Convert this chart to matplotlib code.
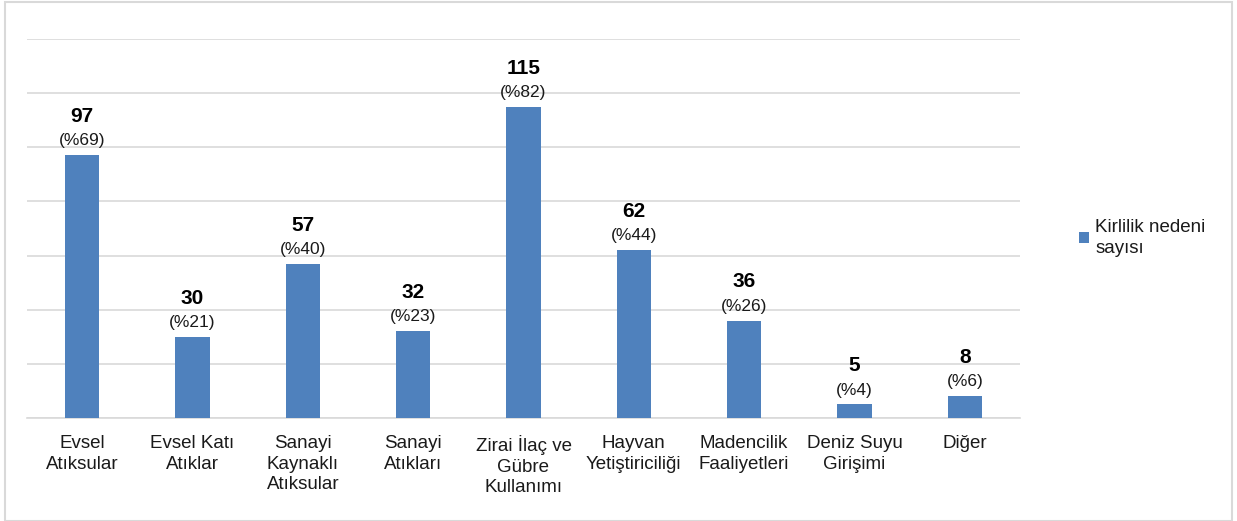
import matplotlib.pyplot as plt
from matplotlib.patches import Rectangle

plt.rcParams['font.family'] = ['Liberation Sans', 'DejaVu Sans']

# --- veri ---
kategoriler = ['Evsel\nAtıksular', 'Evsel Katı\nAtıklar', 'Sanayi\nKaynaklı\nAtıksular',
               'Sanayi\nAtıkları', 'Zirai İlaç ve\nGübre\nKullanımı', 'Hayvan\nYetiştiriciliği',
               'Madencilik\nFaaliyetleri', 'Deniz Suyu\nGirişimi', 'Diğer']
degerler = [97, 30, 57, 32, 115, 62, 36, 5, 8]
yuzdeler = [69, 21, 40, 23, 82, 44, 26, 4, 6]
seri_adi = 'Kirlilik nedeni\nsayısı'

BAR_COLOR = '#4F81BD'
GRID_COLOR = '#D9D9D9'
TEXT_COLOR = '#1a1a1a'

fig = plt.figure(figsize=(12.37, 5.21), dpi=100)
ax = fig.add_axes([27 / 1237, 1 - 418 / 521, 993 / 1237, 379 / 521])

x = range(len(kategoriler))
ax.bar(x, degerler, width=0.31, color=BAR_COLOR, label=seri_adi, zorder=3)

ax.set_xlim(-0.5, len(kategoriler) - 0.5)
ax.set_ylim(0, 140)
ax.set_yticks(range(0, 141, 20))
ax.yaxis.grid(True, color=GRID_COLOR, linewidth=1.2, zorder=0)
ax.tick_params(axis='y', left=False, labelleft=False)
ax.tick_params(axis='x', length=0, pad=12)
ax.set_xticks(list(x))
ax.set_xticklabels(kategoriler, fontsize=13.5, color=TEXT_COLOR, linespacing=1.3)
for s in ['top', 'right', 'left']:
    ax.spines[s].set_visible(False)
ax.spines['bottom'].set_color(GRID_COLOR)
ax.spines['bottom'].set_linewidth(1.2)

# etiketler: değer (kalın) ve yüzde
for xi, v, p in zip(x, degerler, yuzdeler):
    ax.annotate(f'(%{p})', (xi, v), xytext=(0, 5), textcoords='offset points',
                ha='center', va='bottom', fontsize=12.5, color=TEXT_COLOR)
    ax.annotate(f'{v}', (xi, v), xytext=(0, 21), textcoords='offset points',
                ha='center', va='bottom', fontsize=15, fontweight='bold', color='black')

leg = ax.legend(loc='center left', bbox_to_anchor=(1.052, 0.475), frameon=False,
                fontsize=13.5, handlelength=0.55, handleheight=0.55, handletextpad=0.3,
                borderaxespad=0)
for t in leg.get_texts():
    t.set_color(TEXT_COLOR)
    t.set_linespacing(1.3)

# dış çerçeve
fig.patches.append(Rectangle((5 / 1237, 0), 1 - 10 / 1237, 1 - 2 / 521,
                             transform=fig.transFigure, fill=False,
                             edgecolor=GRID_COLOR, linewidth=1.5))

fig.savefig('out.png', dpi=100)
